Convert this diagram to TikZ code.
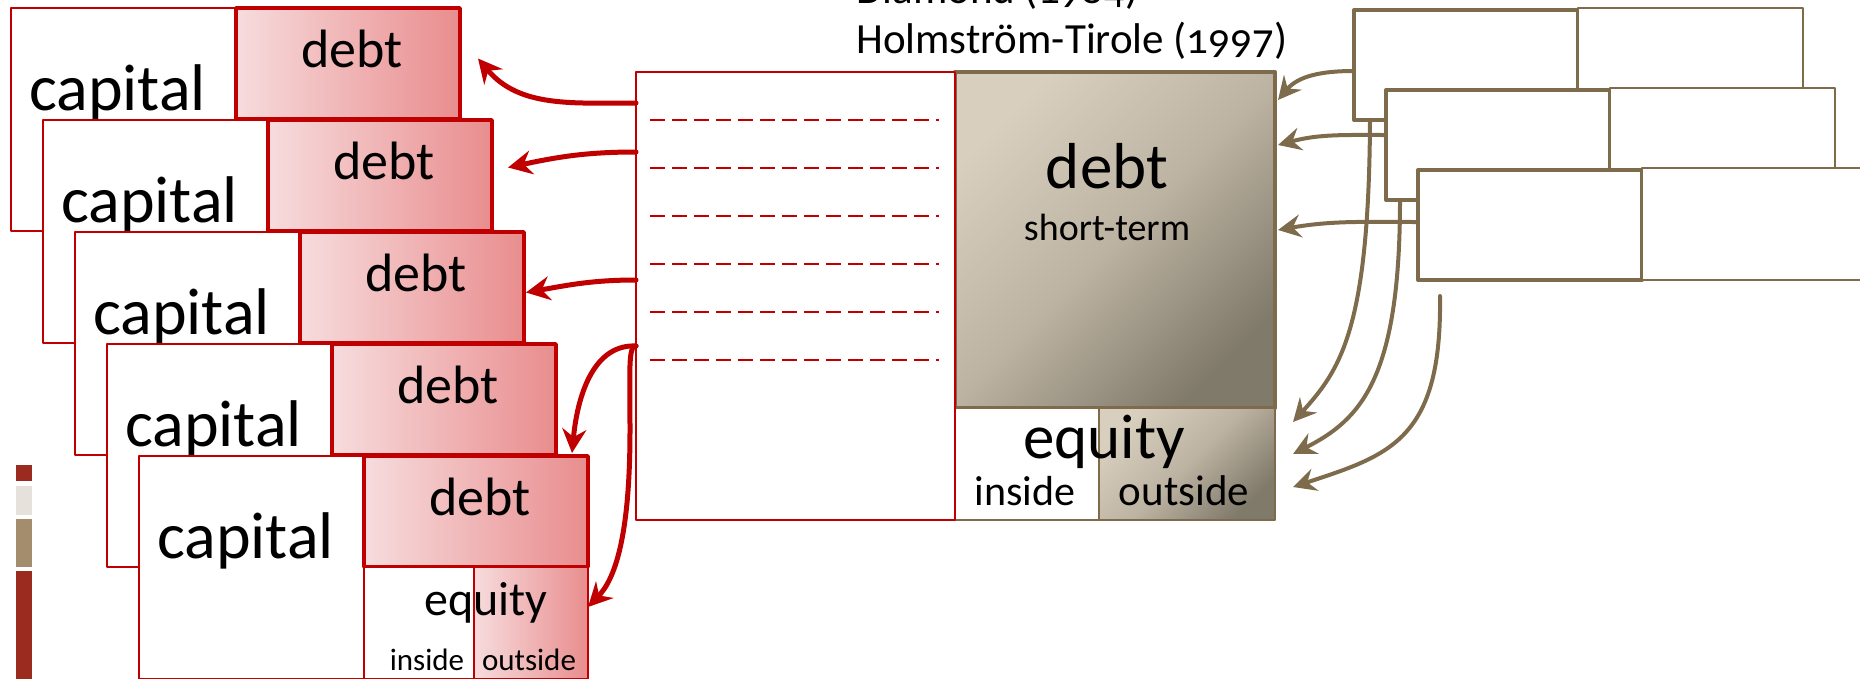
\documentclass[tikz,border=0pt]{standalone}
\usepackage{fontspec}
\setmainfont{Carlito}[Numbers=OldStyle]
\usetikzlibrary{arrows.meta,positioning}
\definecolor{ocred}{HTML}{C00000}
\definecolor{debtlight}{HTML}{F7DCDD}
\definecolor{debtdark}{HTML}{E98D8E}
\definecolor{ocbrown}{HTML}{7D6B4C}
\definecolor{tanlight}{HTML}{D8CFBE}
\definecolor{tanmid}{HTML}{BDB3A2}
\definecolor{tandark}{HTML}{807A6B}
\definecolor{legred}{HTML}{9A2B1E}
\definecolor{legbeige}{HTML}{E6E2DB}
\definecolor{legtan}{HTML}{A38D6C}
\begin{document}
\begin{tikzpicture}[x=1pt, y=-1pt, line join=round, line cap=round,
    box/.style={inner sep=0pt, outer sep=0pt, anchor=north west},
    capbox/.style={box, draw=ocred, line width=1.5pt, fill=white, minimum width=225pt, minimum height=223pt},
    debtbox/.style={box, draw=ocred, line width=3.5pt, left color=debtlight, right color=debtdark, minimum width=224pt, minimum height=111pt},
    eqbox/.style={box, draw=ocred, line width=1.5pt, minimum height=112pt},
    lbox/.style={box, draw=ocbrown, line width=4pt, fill=white, minimum width=224pt, minimum height=110pt},
    rbox/.style={box, draw=ocbrown, line width=2pt, fill=white, minimum width=225pt, minimum height=112pt},
    tanshade/.style={top color=tanlight, bottom color=tandark, middle color=tanmid, shading angle=45},
    txt/.style={inner sep=0pt, anchor=base},
    redarrow/.style={draw=ocred, line width=5pt, -{Stealth[length=24pt,width=24pt,inset=8pt]}},
    brarrow/.style={draw=ocbrown, line width=4pt, -{Stealth[length=23pt,width=23pt,inset=8pt]}}]
  \clip (0,0) rectangle (1860,678);

  % legend bars
  \fill[legred] (16,465) rectangle (32,481);
  \fill[legbeige] (16,486) rectangle (32,515);
  \fill[legtan] (16,519) rectangle (32,567);
  \fill[legred] (16,571) rectangle (32,680);

  % stack of banks: capital and debt
  \foreach \k in {0,...,4} {
    \node[capbox] (cap\k) at ({11+32*\k},{8+112*\k}) {};
    \node[debtbox] (debt\k) at ({236+32*\k},{8+112*\k}) {};
    \node[txt, font=\fontsize{66}{66}\selectfont] (capt\k) at ([xshift=-6pt,yshift=-102pt]cap\k.north) {capital};
    \node[txt, font=\fontsize{54}{54}\selectfont] (debtt\k) at ([xshift=4pt,yshift=-59pt]debt\k.north) {debt};
  }
  \node[eqbox, fill=white, minimum width=110pt] (eqin) at (debt4.south west) {};
  \node[eqbox, left color=debtlight, right color=debtdark, minimum width=114pt] (eqout) at (eqin.north east) {};
  \node[txt, font=\fontsize{48}{48}\selectfont] (eqt) at ([xshift=12pt,yshift=-48pt]eqin.north east) {equity};
  \node[txt, font=\fontsize{31}{31}\selectfont] (eqint) at ([xshift=8pt,yshift=-103pt]eqin.north) {inside};
  \node[txt, font=\fontsize{31}{31}\selectfont] (eqoutt) at ([xshift=-2pt,yshift=-103pt]eqout.north) {outside};

  % intermediary balance sheet
  \node[box, draw=ocbrown, line width=4pt, tanshade, minimum width=320pt, minimum height=336pt] (sdebt) at (955,72) {};
  \node[box, draw=ocbrown, line width=1.5pt, fill=white, minimum width=144pt, minimum height=112pt] (insd) at (sdebt.south west) {};
  \node[box, draw=ocbrown, line width=1.5pt, tanshade, minimum width=176pt, minimum height=112pt] (outs) at (insd.north east) {};
  \node[box, draw=ocred, line width=1.5pt, fill=white, minimum width=319pt, minimum height=448pt] (mid) at (636,72) {};
  \foreach \j in {0,...,5}
    \draw[ocred, line width=1.5pt, line cap=butt, dash pattern=on 15pt off 7pt] (650,{120+48*\j}) -- (939,{120+48*\j});

  \node[txt, font=\fontsize{65}{65}\selectfont] (sdebtt) at ([xshift=-8pt,yshift=-116pt]sdebt.north) {debt};
  \node[txt, font=\fontsize{38}{38}\selectfont] (stermt) at ([xshift=-8pt,yshift=-168pt]sdebt.north) {short-term};
  \node[txt, font=\fontsize{63}{63}\selectfont] (equt) at ([xshift=5pt,yshift=-50pt]insd.north east) {equity};
  \node[txt, font=\fontsize{42}{42}\selectfont] (insdt) at ([xshift=-2pt,yshift=-97pt]insd.north) {inside};
  \node[txt, font=\fontsize{43}{43}\selectfont] (outst) at ([xshift=-3pt,yshift=-97pt]outs.north) {outside};

  % references
  \node[inner sep=0pt, anchor=base west, font=\fontsize{43}{43}\selectfont] (holm) at (856,53) {Holmström-Tirole (1997)};
  \node[inner sep=0pt, anchor=base west, font=\fontsize{43}{43}\selectfont] (diam) at ([yshift=50pt]holm.base west) {Diamond (1984)};

  % investors on the right
  \foreach \j in {0,1,2} {
    \node[lbox] (lb\j) at ({1354+32*\j},{10+80*\j}) {};
    \node[rbox] (rb\j) at ({1578+32*\j},{8+80*\j}) {};
  }

  % red arrows to the banks
  \draw[redarrow] ([yshift=-31pt]mid.north west) to[out=180,in=-50] ([xshift=18pt,yshift=5pt]debt0.east);
  \draw[redarrow] ([yshift=-80pt]mid.north west) to[out=180,in=12] ([xshift=16pt,yshift=8pt]debt1.east);
  \draw[redarrow] ([yshift=-208pt]mid.north west) to[out=180,in=10] ([xshift=2pt,yshift=-5pt]debt2.east);
  \draw[redarrow] ([yshift=-274pt]mid.north west) .. controls (596,344) and (578,390) .. ([xshift=-16pt,yshift=3pt]debt4.north east);
  \draw[redarrow] ([yshift=-274pt]mid.north west) .. controls (628,346) and (630,370) .. (630,430)
    .. controls (630,540) and (614,580) .. ([yshift=16pt]eqout.east);

  % brown arrows from the investors
  \coordinate (bt1) at ([xshift=18pt,yshift=-14pt]outs.north east);
  \coordinate (bt2) at ([xshift=18pt,yshift=-46pt]outs.north east);
  \coordinate (bt3) at ([xshift=18pt,yshift=-79pt]outs.north east);
  \coordinate (bs3) at ([xshift=22pt,yshift=-16pt]lb2.south west);
  \draw[brarrow] ([yshift=-6pt]lb0.west) to[out=180,in=50] ([xshift=3pt,yshift=-28pt]sdebt.north east);
  \draw[brarrow] ([yshift=10pt]lb1.west) to[out=180,in=15] ([xshift=3pt,yshift=-73pt]sdebt.north east);
  \draw[brarrow] ([yshift=3pt]lb2.west) to[out=180,in=10] ([xshift=3pt,yshift=-158pt]sdebt.north east);
  \draw[brarrow] ([xshift=16pt]lb0.south west) .. controls (1369,330) and (1340,370) .. (bt1);
  \draw[brarrow] ([xshift=14pt]lb1.south west) .. controls (1400,380) and (1360,420) .. (bt2);
  \draw[brarrow] (bs3) .. controls (1442,440) and (1390,455) .. (bt3);
\end{tikzpicture}
\end{document}
